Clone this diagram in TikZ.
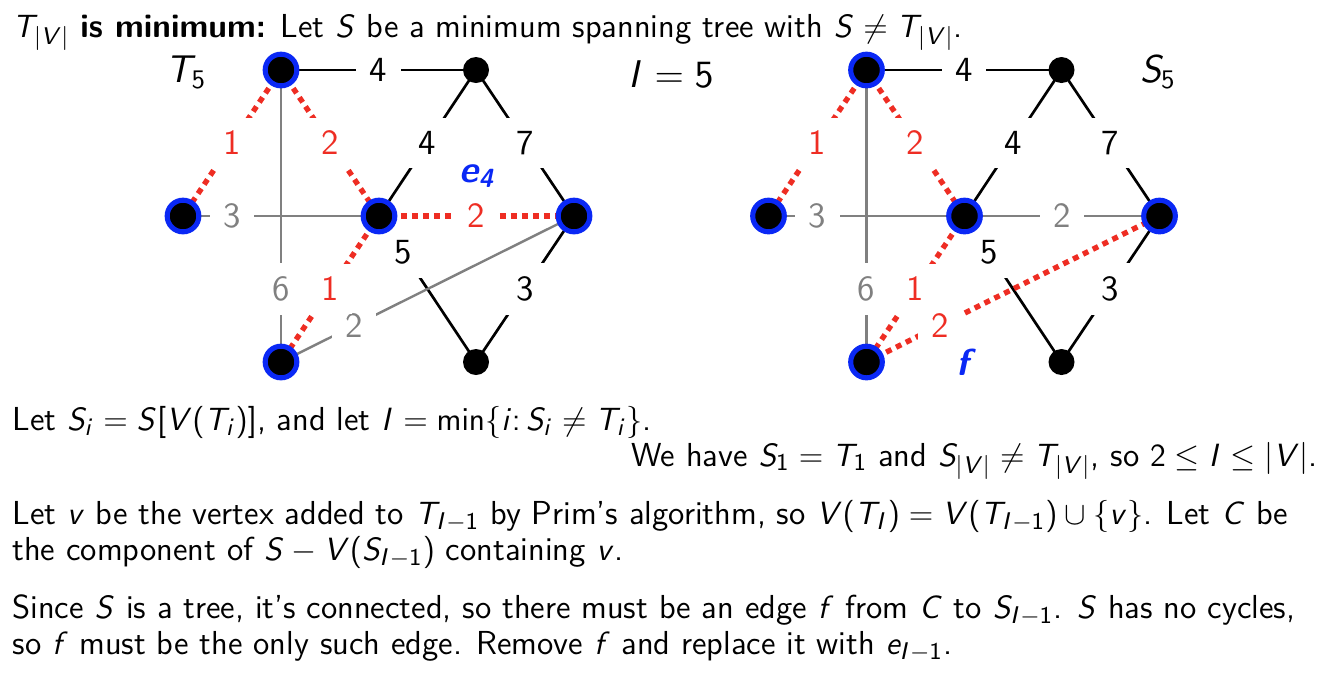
\documentclass[tikz,border=0pt]{standalone}
\renewcommand\familydefault{\sfdefault}
\DeclareSymbolFont{operators}{OT1}{cmss}{m}{n}
\DeclareSymbolFont{sfletters}{OT1}{cmss}{m}{sl}
\DeclareMathSymbol{S}{\mathalpha}{sfletters}{`S}
\DeclareMathSymbol{T}{\mathalpha}{sfletters}{`T}
\DeclareMathSymbol{V}{\mathalpha}{sfletters}{`V}
\DeclareMathSymbol{I}{\mathalpha}{sfletters}{`I}
\DeclareMathSymbol{i}{\mathalpha}{sfletters}{`i}
\DeclareMathSymbol{v}{\mathalpha}{sfletters}{`v}
\DeclareMathSymbol{C}{\mathalpha}{sfletters}{`C}
\DeclareMathSymbol{e}{\mathalpha}{sfletters}{`e}
\DeclareMathSymbol{f}{\mathalpha}{sfletters}{`f}
\definecolor{myred}{RGB}{238,45,35}
\definecolor{myblue}{RGB}{10,40,245}
\definecolor{mygray}{RGB}{128,128,128}
\tikzset{
  blk/.style={draw=black, line width=1pt},
  gry/.style={draw=mygray, line width=0.9pt},
  rdd/.style={draw=myred, line width=2pt, dash pattern=on 2.2pt off 1.9pt},
  wl/.style={fill=white, inner sep=5pt, font=\fontsize{13.2}{15}\selectfont},
  vb/.style={circle, fill=black, draw=myblue, line width=1.9pt, minimum size=11.8pt, inner sep=0pt},
  vk/.style={circle, fill=black, minimum size=9.7pt, inner sep=0pt},
  txt/.style={anchor=base west, inner sep=0pt},
  big/.style={font=\fontsize{14.5}{17}\selectfont},
  hl/.style={text=myblue, font=\fontsize{14}{17}\selectfont\bfseries\slshape}
}
\begin{document}
\begin{tikzpicture}[x=0.373pt, y=-0.373pt, font=\fontsize{12.4}{15}\selectfont]
\useasboundingbox (0,0) rectangle (1334,695);

% ---------- left graph T5 ----------
\coordinate (A) at (281,70);
\coordinate (B) at (476,70);
\coordinate (C) at (183,216);
\coordinate (D) at (379,216);
\coordinate (E) at (574,216);
\coordinate (F) at (281,362);
\coordinate (G) at (476,362);

\draw[blk] (A) -- node[wl]{4} (B);
\draw[blk] (D) -- node[wl]{4} (B);
\draw[blk] (B) -- node[wl]{7} (E);
\draw[blk] (D) -- node[wl,pos=0.25]{5} (G);
\draw[blk] (E) -- node[wl]{3} (G);
\draw[gry] (C) -- node[wl,text=mygray,pos=0.25]{3} (D);
\draw[gry] (A) -- node[wl,text=mygray,pos=0.75]{6} (F);
\draw[gry] (F) -- node[wl,text=mygray,pos=0.25]{2} (E);
\draw[rdd] (A) -- node[wl,text=myred]{1} (C);
\draw[rdd] (A) -- node[wl,text=myred]{2} (D);
\draw[rdd] (D) -- node[wl,text=myred]{1} (F);
\draw[rdd] (D) -- node[wl,text=myred]{2} (E);

\node[vb] (vA) at (A) {};
\node[vk] (vB) at (B) {};
\node[vb] (vC) at (C) {};
\node[vb] (vD) at (D) {};
\node[vb] (vE) at (E) {};
\node[vb] (vF) at (F) {};
\node[vk] (vG) at (G) {};

\node[hl] (e4) at (477,176) {e\textsubscript{4}};
\node[big] (T5) at (186,72) {$T_5$};
\node[big] (I5) at (671,74) {$I = 5$};

% ---------- right graph S5 ----------
\coordinate (A2) at (866.5,70);
\coordinate (B2) at (1061.5,70);
\coordinate (C2) at (768.5,216);
\coordinate (D2) at (964.5,216);
\coordinate (E2) at (1159.5,216);
\coordinate (F2) at (866.5,362);
\coordinate (G2) at (1061.5,362);

\draw[blk] (A2) -- node[wl]{4} (B2);
\draw[blk] (D2) -- node[wl]{4} (B2);
\draw[blk] (B2) -- node[wl]{7} (E2);
\draw[blk] (D2) -- node[wl,pos=0.25]{5} (G2);
\draw[blk] (E2) -- node[wl]{3} (G2);
\draw[gry] (C2) -- node[wl,text=mygray,pos=0.25]{3} (D2);
\draw[gry] (A2) -- node[wl,text=mygray,pos=0.75]{6} (F2);
\draw[gry] (D2) -- node[wl,text=mygray]{2} (E2);
\draw[rdd] (A2) -- node[wl,text=myred]{1} (C2);
\draw[rdd] (A2) -- node[wl,text=myred]{2} (D2);
\draw[rdd] (D2) -- node[wl,text=myred]{1} (F2);
\draw[rdd] (F2) -- node[wl,text=myred,pos=0.25]{2} (E2);

\node[vb] (wA) at (A2) {};
\node[vk] (wB) at (B2) {};
\node[vb] (wC) at (C2) {};
\node[vb] (wD) at (D2) {};
\node[vb] (wE) at (E2) {};
\node[vb] (wF) at (F2) {};
\node[vk] (wG) at (G2) {};

\node[hl] (fl) at (963,362) {f};
\node[big] (S5) at (1158,72) {$S_5$};

% ---------- text ----------
\node[txt] (t1) at (12,37) {$T_{|V|}$ \textbf{is minimum:} Let $S$ be a minimum spanning tree with $S \neq T_{|V|}$.};
\node[txt] (t2) at (12,430) {Let $S_i = S[V(T_i)]$, and let $I = \min\{i\colon S_i \neq T_i\}$.};
\node[anchor=base east, inner sep=0pt] (t3) at (1318,466) {We have $S_1 = T_1$ and $S_{|V|} \neq T_{|V|}$, so $2 \leq I \leq |V|$.};
\node[txt] (t4) at (12,524) {Let $v$ be the vertex added to $T_{I-1}$ by Prim's algorithm, so $V(T_I) = V(T_{I-1}) \cup \{v\}$. Let $C$ be};
\node[txt] (t5) at (12,560) {the component of $S - V(S_{I-1})$ containing $v$.};
\node[txt] (t6) at (12,618) {Since $S$ is a tree, it's connected, so there must be an edge $f$ from $C$ to $S_{I-1}$. $S$ has no cycles,};
\node[txt] (t7) at (12,654) {so $f$ must be the only such edge. Remove $f$ and replace it with $e_{I-1}$.};
\end{tikzpicture}
\end{document}
